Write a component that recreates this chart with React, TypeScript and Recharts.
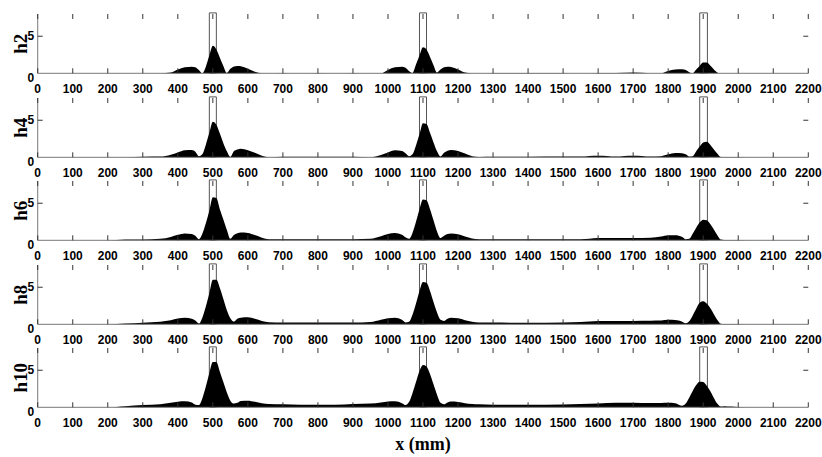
import React from 'react'
import { ComposedChart, Area, Scatter, XAxis, YAxis, ReferenceArea } from 'recharts'

// sample positions along the beam (mm); denser around the three peaks
const X_MM = [
  0, 200, 250, 300, 350,
  380, 400, 420, 440, 450, 460, 470, 480, 490, 500, 510, 520, 530, 540, 550, 560, 570, 580, 600, 620, 640, 660,
  700, 750, 800, 850, 900, 950,
  980, 1000, 1020, 1040, 1050, 1060, 1070, 1080, 1090, 1100, 1110, 1120, 1130, 1140, 1150, 1160, 1170, 1180, 1200, 1220, 1240, 1260,
  1300, 1400, 1500, 1550, 1600, 1650, 1700, 1750,
  1780, 1800, 1820, 1840, 1850, 1860, 1870, 1880, 1890, 1900, 1910, 1920, 1930, 1940, 1950, 1960, 1980, 2000,
  2050, 2200,
]

const H2 = [
  0, 0, 0, 0, 0,
  0.1, 0.5, 0.82, 0.9, 0.82, 0.45, 0, 0.9, 2.4, 3.7, 3.2, 2.1, 1.0, 0.05, 0.6, 0.92, 1.0, 0.95, 0.6, 0.2, 0.02, 0,
  0.05, 0, 0.05, 0, 0.05, 0,
  0, 0.45, 0.8, 0.9, 0.75, 0.3, 0.05, 1.2, 2.4, 3.5, 3.2, 2.2, 1.1, 0.1, 0.5, 0.8, 0.9, 0.85, 0.5, 0.1, 0, 0,
  0.05, 0.05, 0.05, 0, 0.05, 0.05, 0.1, 0.02,
  0, 0.3, 0.5, 0.55, 0.45, 0.15, 0.02, 0.5, 1.0, 1.45, 1.45, 1.05, 0.55, 0.12, 0, 0, 0, 0,
  0, 0,
]

const H4 = [
  0, 0, 0, 0.08, 0.1,
  0.35, 0.65, 0.95, 1.0, 0.75, 0.15, 0.4, 1.7, 3.3, 4.8, 4.4, 3.2, 1.9, 0.8, 0.05, 0.8, 1.05, 1.15, 0.95, 0.6, 0.2, 0.02,
  0.08, 0.08, 0.08, 0.08, 0.08, 0.02,
  0.3, 0.65, 0.95, 0.85, 0.55, 0.15, 0.4, 1.6, 3.1, 4.6, 4.5, 3.3, 2.0, 0.8, 0.1, 0.6, 0.9, 1.0, 0.85, 0.5, 0.15, 0.05,
  0.08, 0.08, 0.1, 0.1, 0.2, 0.1, 0.2, 0.1,
  0.15, 0.4, 0.58, 0.55, 0.4, 0.1, 0.15, 0.8, 1.45, 2.0, 2.1, 1.7, 1.1, 0.5, 0.05, 0.05, 0.05, 0.05,
  0, 0,
]

const H6 = [
  0, 0, 0.1, 0.12, 0.2,
  0.45, 0.75, 0.93, 0.85, 0.6, 0.15, 0.9, 2.3, 4.0, 5.8, 5.7, 4.2, 2.8, 1.4, 0.2, 0.7, 0.95, 1.05, 1.0, 0.7, 0.35, 0.15,
  0.14, 0.14, 0.14, 0.14, 0.14, 0.2,
  0.55, 0.85, 0.97, 0.75, 0.4, 0.2, 1.0, 2.5, 4.2, 5.5, 5.4, 4.2, 2.7, 1.2, 0.3, 0.6, 0.85, 0.93, 0.8, 0.5, 0.25, 0.15,
  0.14, 0.14, 0.14, 0.14, 0.32, 0.32, 0.32, 0.35,
  0.5, 0.68, 0.68, 0.45, 0.15, 0.2, 0.9, 1.7, 2.4, 2.78, 2.7, 2.2, 1.5, 0.7, 0.1, 0.05, 0.05, 0.05,
  0, 0,
]

const H8 = [
  0, 0, 0.12, 0.22, 0.35,
  0.55, 0.78, 0.87, 0.75, 0.5, 0.1, 0.9, 2.4, 4.2, 6.0, 6.0, 4.9, 3.4, 1.9, 0.8, 0.35, 0.75, 0.9, 0.95, 0.75, 0.45, 0.28,
  0.23, 0.23, 0.23, 0.23, 0.23, 0.3,
  0.6, 0.8, 0.87, 0.6, 0.25, 0.35, 1.3, 2.8, 4.5, 5.7, 5.6, 4.5, 3.0, 1.6, 0.6, 0.45, 0.75, 0.87, 0.8, 0.55, 0.35, 0.25,
  0.23, 0.2, 0.25, 0.3, 0.45, 0.46, 0.46, 0.48,
  0.5, 0.6, 0.58, 0.35, 0.15, 0.4, 1.2, 2.1, 2.9, 3.1, 2.8, 2.2, 1.4, 0.6, 0.08, 0.05, 0.05, 0.03,
  0, 0,
]

const H10 = [
  0, 0, 0.15, 0.3, 0.4,
  0.6, 0.75, 0.8, 0.65, 0.35, 0.3, 1.2, 2.8, 4.6, 6.1, 6.1, 4.8, 3.4, 2.0, 0.9, 0.5, 0.6, 0.85, 0.9, 0.75, 0.55, 0.45,
  0.42, 0.36, 0.35, 0.35, 0.45, 0.5,
  0.65, 0.78, 0.8, 0.55, 0.3, 0.7, 1.9, 3.4, 4.9, 5.7, 5.5, 4.5, 3.1, 1.7, 0.6, 0.4, 0.65, 0.78, 0.72, 0.55, 0.45, 0.4,
  0.35, 0.35, 0.38, 0.45, 0.52, 0.62, 0.62, 0.58,
  0.58, 0.6, 0.55, 0.2, 0.5, 1.3, 2.2, 3.0, 3.45, 3.4, 2.9, 2.2, 1.3, 0.5, 0.1, 0.15, 0.1, 0.04,
  0, 0,
]

const PANELS = [
  { name: 'h2', values: H2 },
  { name: 'h4', values: H4 },
  { name: 'h6', values: H6 },
  { name: 'h8', values: H8 },
  { name: 'h10', values: H10 },
]

const X_TICKS = [0, 100, 200, 300, 400, 500, 600, 700, 800, 900, 1000, 1100, 1200, 1300, 1400, 1500, 1600, 1700, 1800, 1900, 2000, 2100, 2200]
const Y_TICKS = [0, 5]
const BOXES = [[490, 510], [1090, 1110], [1890, 1912]]
const X_MAX = 2200
const Y_MAX = 8

const ZERO_LINES = [73.3, 156.9, 240.5, 324.1, 407.7]
const PLOT_H = 59.3
const PLOT_LEFT = 37.7
const PLOT_RIGHT = 808.3
const MT = 4
const TICK_LEN = 5
const X_GAP = 11.5
const Y_GAP = 3.6
const AXIS_GRAY = '#777'
const TICK_COLOR = '#333'
const TICK_FONT = { fontSize: 12, fontWeight: 700, fill: '#000', fontFamily: 'Liberation Sans, Arial, sans-serif' }

// tick length in axis units, so bottom/left marks can start inside the frame
const TICK_DY = (Y_MAX * TICK_LEN) / PLOT_H
const TICK_DX = (X_MAX * TICK_LEN) / (PLOT_RIGHT - PLOT_LEFT)

// tick marks as scatter points; each shape draws a short stroke towards the frame edge
const BOTTOM_MARKS = X_TICKS.map((t) => ({ x: t, y: TICK_DY }))
const TOP_MARKS = X_TICKS.map((t) => ({ x: t, y: Y_MAX }))
const LEFT_MARKS = Y_TICKS.filter((v) => v > 0).map((v) => ({ x: TICK_DX, y: v }))
const RIGHT_MARKS = Y_TICKS.filter((v) => v > 0).map((v) => ({ x: X_MAX, y: v }))

const stroke = (dx: number, dy: number) => (props: any) => {
  const { cx, cy } = props
  if (cx == null || cy == null) return <g />
  return <line x1={cx} y1={cy} x2={cx + dx} y2={cy + dy} stroke={TICK_COLOR} strokeWidth={1} />
}

function XTickLabel(props: any) {
  const { x, y, payload } = props
  return (
    <text x={x} y={y} dy="0.71em" textAnchor="middle" {...TICK_FONT}>
      {payload.value}
    </text>
  )
}

function YTickLabel(props: any) {
  const { x, y, payload } = props
  const shift = payload.value === 0 ? 4 : 0
  return (
    <text x={x} y={y + shift} dy="0.355em" textAnchor="end" {...TICK_FONT}>
      {payload.value}
    </text>
  )
}

function YLabel(props: any) {
  const vb = props.viewBox || {}
  const cy = (vb.y ?? MT) + (vb.height ?? PLOT_H) / 2
  return (
    <text
      x={27}
      y={cy}
      transform={`rotate(-90 27 ${cy})`}
      textAnchor="middle"
      fontSize={19}
      fontWeight={700}
      fontFamily="Liberation Serif, Times New Roman, serif"
      fill="#000"
    >
      {props.text}
    </text>
  )
}

function Panel({ name, values, zero, last }: { name: string; values: number[]; zero: number; last: boolean }) {
  const data = X_MM.map((x, i) => ({ x, y: values[i] }))
  const bottomH = last ? 49 : 25
  return (
    <div style={{ position: 'absolute', left: 0, top: zero - PLOT_H - MT }}>
      <ComposedChart
        width={822}
        height={MT + PLOT_H + bottomH}
        data={data}
        margin={{ top: MT, right: 822 - PLOT_RIGHT, left: 0, bottom: 0 }}
      >
        <XAxis
          dataKey="x"
          type="number"
          domain={[0, X_MAX]}
          ticks={X_TICKS}
          interval={0}
          height={bottomH}
          tickSize={0}
          tickLine={false}
          tickMargin={X_GAP}
          stroke={AXIS_GRAY}
          tick={<XTickLabel />}
          label={last ? {
            value: 'x (mm)',
            position: 'insideBottom',
            offset: 6,
            fontSize: 18,
            fontWeight: 700,
            fontFamily: 'Liberation Serif, Times New Roman, serif',
            fill: '#000',
          } : undefined}
        />
        <XAxis xAxisId="top" orientation="top" dataKey="x" type="number" domain={[0, X_MAX]} height={0} tick={false} tickLine={false} stroke={AXIS_GRAY} />
        <YAxis
          dataKey="y"
          domain={[0, Y_MAX]}
          ticks={Y_TICKS}
          width={PLOT_LEFT}
          tickSize={0}
          tickLine={false}
          tickMargin={Y_GAP}
          stroke={AXIS_GRAY}
          tick={<YTickLabel />}
          label={<YLabel text={name} />}
        />
        <YAxis yAxisId="right" orientation="right" domain={[0, Y_MAX]} width={0} tick={false} tickLine={false} stroke={AXIS_GRAY} />
        {BOXES.map(([a, b]) => (
          <ReferenceArea
            key={a}
            x1={a}
            x2={b}
            y1={0}
            y2={8.15}
            fill="none"
            stroke="#555"
            strokeWidth={1}
            ifOverflow="visible"
          />
        ))}
        <Area
          type="monotone"
          dataKey="y"
          fill="#000"
          fillOpacity={1}
          stroke="none"
          dot={false}
          activeDot={false}
          isAnimationActive={false}
        />
        <Scatter data={BOTTOM_MARKS} dataKey="y" shape={stroke(0, TICK_LEN)} isAnimationActive={false} />
        <Scatter data={TOP_MARKS} dataKey="y" shape={stroke(0, TICK_LEN)} isAnimationActive={false} />
        <Scatter data={LEFT_MARKS} dataKey="y" shape={stroke(-TICK_LEN, 0)} isAnimationActive={false} />
        <Scatter data={RIGHT_MARKS} dataKey="y" shape={stroke(-TICK_LEN, 0)} isAnimationActive={false} />
      </ComposedChart>
    </div>
  )
}

export default function App() {
  return (
    <div style={{ position: 'absolute', left: 0, top: 0, width: 822, height: 457, background: '#fff' }}>
      {PANELS.map((p, i) => (
        <Panel key={p.name} name={p.name} values={p.values} zero={ZERO_LINES[i]} last={i === PANELS.length - 1} />
      ))}
    </div>
  )
}
